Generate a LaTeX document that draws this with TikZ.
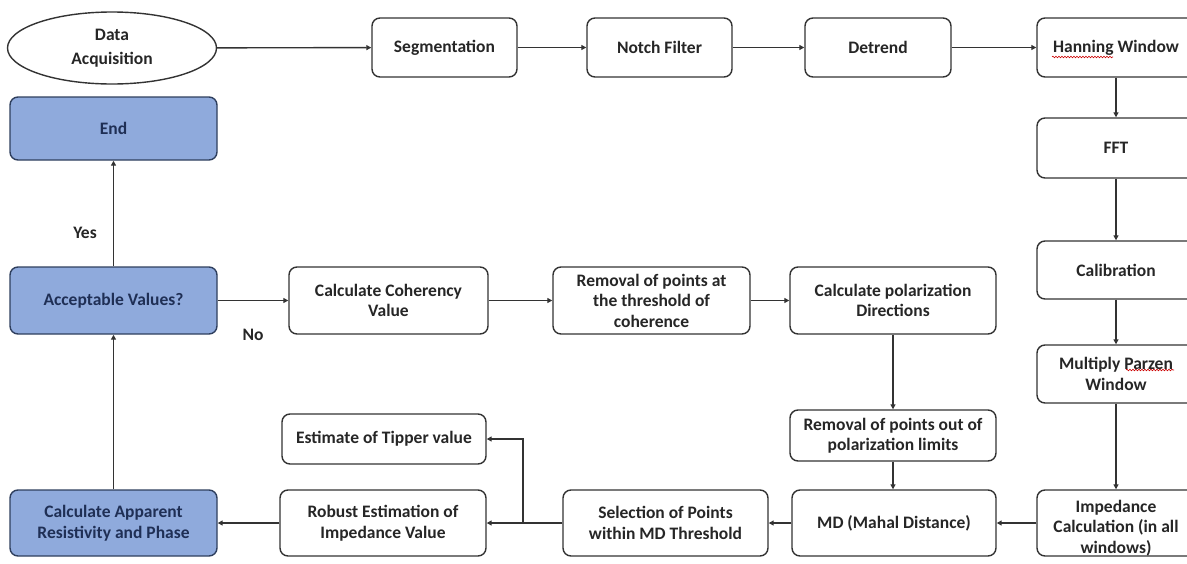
\documentclass[tikz,border=0pt]{standalone}
\usepackage{fontspec}
\setmainfont{Carlito}
\usetikzlibrary{arrows.meta,shapes.geometric,decorations.pathmorphing}
\definecolor{bluefill}{HTML}{8FAADC}
\definecolor{blueedge}{HTML}{2F3F5E}
\definecolor{bluetext}{HTML}{1F2F55}
\definecolor{edge}{HTML}{333333}
\definecolor{txt}{HTML}{262626}
\tikzset{
  every node/.style={font=\bfseries\fontsize{17.5}{20.5}\selectfont, text=txt},
  box/.style={draw=edge, line width=1.4pt, rounded corners=8pt, fill=white, align=center, inner sep=0pt},
  bluebox/.style={box, draw=blueedge, fill=bluefill, text=bluetext},
  oval/.style={ellipse, draw=edge, line width=1.4pt, fill=white, align=center, inner sep=0pt},
  conn/.style={draw=edge, line width=1.4pt, -{Triangle[length=5pt,width=5pt]}},
  lbl/.style={inner sep=0pt, align=center},
  squig/.style={draw=red!80!black, line width=0.6pt, decorate, decoration={snake, amplitude=0.8pt, segment length=3pt}}
}
\begin{document}
\begin{tikzpicture}[x=1pt,y=-1pt]
\clip (0,0) rectangle (1187,563);
\fill[white] (0,0) rectangle (1187,563);
% top row
\node[oval, minimum width=209, minimum height=72] (da) at (112,48) {Data\\[4pt]Acquisition};
\node[box, minimum width=145, minimum height=59] (seg) at (444.5,47.5) {Segmentation};
\node[box, minimum width=145, minimum height=59] (notch) at (659.5,47.5) {Notch Filter};
\node[box, minimum width=146, minimum height=59] (det) at (878,47.5) {Detrend};
\node[box, minimum width=158, minimum height=59] (hann) at (1116,47.5) {Hanning Window};
% right column
\node[box, minimum width=158, minimum height=60] (fft) at (1116,148) {FFT};
\node[box, minimum width=158, minimum height=58] (cal) at (1116,270) {Calibration};
\node[box, minimum width=158, minimum height=58] (mult) at (1116,374) {Multiply Parzen\\Window};
\node[box, minimum width=158, minimum height=66] (imp) at (1116,523) {};
\node[lbl] (impt) at (1116,528) {Impedance\\Calculation (in all\\windows)};
% bottom row
\node[box, minimum width=204, minimum height=66] (md) at (894,523) {MD (Mahal Distance)};
\node[box, minimum width=205, minimum height=66] (sel) at (665.5,523) {Selection of Points\\within MD Threshold};
\node[box, minimum width=206, minimum height=66] (rob) at (383,523) {Robust Estimation of\\Impedance Value};
\node[bluebox, minimum width=207, minimum height=66] (capp) at (113.5,523) {Calculate Apparent\\Resistivity and Phase};
\node[box, minimum width=204, minimum height=50] (tip) at (384,439) {Estimate of Tipper value};
\node[box, minimum width=206, minimum height=51] (lim) at (893,435.5) {Removal of points out of\\polarization limits};
% middle row
\node[bluebox, minimum width=207, minimum height=67] (acc) at (113.5,300.5) {Acceptable Values?};
\node[box, minimum width=199, minimum height=67] (coh) at (388.5,300.5) {Calculate Coherency\\Value};
\node[box, minimum width=197, minimum height=67] (thr) at (651.5,300.5) {Removal of points at\\the threshold of\\coherence};
\node[box, minimum width=206, minimum height=67] (pol) at (893,300.5) {Calculate polarization\\Directions};
\node[bluebox, minimum width=207, minimum height=63] (end) at (113.5,128.5) {End};
% labels
\node[lbl] (yes) at (85,233) {Yes};
\node[lbl] (no) at (253,335) {No};
% spellcheck squiggles
\draw[squig] (1052,57) -- (1113,57);
\draw[squig] (1126,370) -- (1174,370);
% connectors
\draw[conn] (da) -- (seg);
\draw[conn] (seg) -- (notch);
\draw[conn] (notch) -- (det);
\draw[conn] (det) -- (hann);
\draw[conn] (hann) -- (fft);
\draw[conn] (fft) -- (cal);
\draw[conn] (cal) -- (mult);
\draw[conn] (mult) -- (imp);
\draw[conn] (imp) -- (md);
\draw[conn] (md) -- (sel);
\draw[conn] (sel) -- (rob);
\coordinate (br) at (523,523);
\draw[conn] (br) |- (tip.east);
\draw[conn] (rob) -- (capp);
\draw[conn] (capp) -- (acc);
\draw[conn] (acc) -- (end);
\draw[conn] (acc) -- (coh);
\draw[conn] (coh) -- (thr);
\draw[conn] (thr) -- (pol);
\draw[conn] (pol) -- (lim);
\draw[conn] (lim) -- (md.north -| lim.south);
\end{tikzpicture}
\end{document}
